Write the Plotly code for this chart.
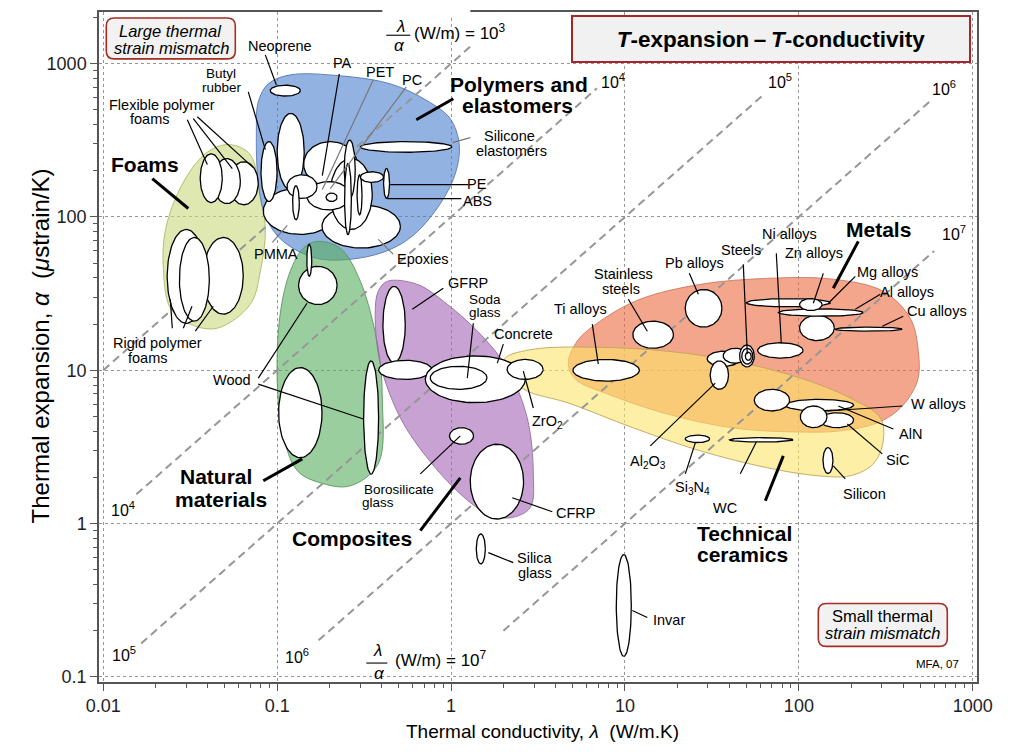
import numpy as np
import plotly.graph_objects as go

FONT = "Liberation Sans, Arial, Helvetica, sans-serif"

# ------------------------------------------------------------------
# DATA  (lambda = thermal conductivity, W/m.K ; alpha = thermal expansion, microstrain/K)
# Material bubbles: (name, lambda_min, lambda_max, alpha_min, alpha_max), listed in drawing order
# ------------------------------------------------------------------
foams = [
    ("Flexible polymer foam C", 0.0530, 0.0778, 120, 229),
    ("Flexible polymer foam B", 0.0429, 0.0614, 122, 240),
    ("Flexible polymer foam A", 0.0361, 0.0483, 124, 258),
    ("Rigid polymer foam C", 0.0376, 0.0638, 23.2, 73.4),
    ("Rigid polymer foam A", 0.0233, 0.0386, 20.2, 82.8),
    ("Rigid polymer foam B", 0.0274, 0.0407, 20.9, 73.4),
]

polymers = [
    ("Elastomer base", 0.0832, 0.222, 76.8, 155),
    ("Epoxies", 0.181, 0.511, 62.6, 120),
    ("PA", 0.142, 0.288, 158, 310),
    ("PET", 0.2017, 0.352, 82.8, 240),
    ("Butyl rubber (wide)", 0.100, 0.143, 150, 473),
    ("Butyl rubber", 0.0807, 0.0998, 126, 310),
    ("ABS", 0.148, 0.263, 111, 170),
    ("PMMA", 0.1138, 0.1695, 132, 188),
    ("Polymer narrow", 0.1227, 0.134, 95.8, 160),
    ("Polymer small", 0.191, 0.221, 126, 143),
    ("PC", 0.243, 0.281, 132, 317),
    ("Polymer narrow 2", 0.244, 0.267, 76.5, 223),
    ("Polymer narrow 3", 0.288, 0.3076, 103, 188),
    ("PE", 0.3008, 0.409, 168, 197),
    ("PE (2)", 0.409, 0.4426, 132, 207),
    ("Neoprene", 0.0912, 0.136, 614, 723),
    ("Silicone elastomers", 0.3008, 1.01, 264, 310),
]

natural = [
    ("Wood (transverse)", 0.1019, 0.181, 2.69, 10.4),
    ("Wood (longitudinal)", 0.314, 0.383, 2.10, 11.5),
    ("Wood (round)", 0.1327, 0.221, 26.8, 47.6),
    ("Natural narrow", 0.148, 0.158, 41.0, 66.4),
]

composites = [
    ("GFRP", 0.4055, 0.545, 11.2, 35.2),
    ("GFRP (2)", 0.383, 0.776, 8.71, 11.6),
    ("Concrete", 0.711, 2.67, 6.14, 12.4),
    ("Soda glass", 0.759, 1.609, 7.50, 10.6),
    ("ZrO2", 2.10, 3.38, 8.71, 11.75),
    ("Borosilicate glass", 0.979, 1.346, 3.29, 4.22),
    ("CFRP", 1.289, 2.61, 1.07, 3.29),
    ("Silica glass", 1.396, 1.573, 0.545, 0.855),
]

metals = [
    ("Ti alloys", 5.02, 12.1, 8.49, 11.75),
    ("Stainless steels", 11.1, 19.0, 13.9, 20.9),
    ("Pb alloys", 22.2, 36.1, 19.1, 33.6),
    ("Zn alloys", 49.8, 151.6, 25.9, 29.3),
    ("Al alloys (cast)", 100.9, 159.8, 15.6, 22.8),
    ("Al alloys", 76.1, 234.6, 22.5, 25.1),
    ("Mg alloys", 100.9, 135.8, 24.5, 29.3),
    ("Cu alloys", 161.9, 391.6, 17.96, 19.1),
    ("Ni alloys", 57.9, 105.6, 12.0, 15.1),
    ("Cast irons", 29.7, 46.0, 10.6, 13.3),
    ("Carbon steels", 36.7, 50.5, 11.1, 13.9),
    ("Steels", 45.6, 55.4, 10.5, 14.6),
    ("Steels (2)", 46.95, 54.3, 10.96, 13.9),
    ("Steels (3)", 49.2, 53.2, 11.6, 13.1),
    ("Invar", 8.91, 10.87, 0.136, 0.627),
]

ceramics = [
    ("Al2O3", 30.9, 39.4, 7.50, 11.5),
    ("W alloys", 83.5, 206.4, 5.42, 6.46),
    ("Ceramic (B4C)", 55.4, 88.4, 5.42, 7.50),
    ("SiC", 132.7, 206.4, 4.22, 5.28),
    ("AlN", 101.9, 145.1, 4.22, 5.84),
    ("Si3N4", 22.2, 30.7, 3.37, 3.77),
    ("WC", 39.96, 92.5, 3.40, 3.63),
    ("Silicon", 137.6, 157.0, 2.12, 3.13),
]

# Family envelopes (outline)
foams_env_lam = [0.0537, 0.070, 0.080, 0.0855, 0.080, 0.070, 0.0453, 0.0316, 0.0243, 0.0221, 0.0227, 0.0266, 0.0347, 0.0429]
foams_env_alpha = [296, 255, 132, 84.1, 44.2, 26.9, 18.8, 19.95, 25.4, 49.0, 80.4, 140, 229, 279]

polymers_env_lam = [0.0778, 0.0889, 0.1189, 0.2307, 0.4467, 0.729, 0.989, 1.114, 1.057, 0.867, 0.614, 0.4467, 0.289, 0.170, 0.1084, 0.0865, 0.0778, 0.0759]
polymers_env_alpha = [563, 738, 844, 832, 738, 572, 437, 296, 191, 122, 76.8, 61.3, 53.6, 53.6, 69.2, 97.7, 170, 360]

natural_env_lam = [0.170, 0.2307, 0.3008, 0.381, 0.402, 0.381, 0.263, 0.184, 0.1305, 0.107, 0.100, 0.104, 0.1189, 0.141]
natural_env_alpha = [69.2, 62.3, 38.0, 13.9, 6.58, 2.45, 1.76, 1.82, 2.21, 4.02, 8.49, 23.2, 44.2, 62.3]

composites_env_lam = [0.4295, 0.639, 0.951, 1.472, 2.105, 2.74, 2.97, 2.85, 2.19, 1.615, 1.13, 0.729, 0.511, 0.392, 0.366, 0.381]
composites_env_alpha = [38.0, 36.3, 26.9, 17.2, 10.3, 4.88, 2.11, 1.27, 1.09, 1.16, 1.56, 2.68, 4.88, 10.96, 23.2, 32.7]

metals_env_lam = [4.72, 5.32, 7.21, 12.2, 27.1, 65.8, 157.8, 305.5, 437, 486, 480, 383, 282, 173, 101.9, 42.0, 17.5, 8.23, 5.18]
metals_env_alpha = [11.1, 15.5, 20.9, 29.0, 36.3, 39.7, 39.2, 32.7, 21.8, 13.3, 8.49, 5.66, 4.53, 4.02, 3.95, 4.20, 5.18, 6.89, 8.75]

ceramics_env_lam = [2.05, 2.97, 7.21, 17.5, 42.0, 101.9, 197.5, 294, 305.5, 268, 197.5, 127.6, 65.8, 27.1, 11.2, 4.66, 2.74, 2.19, 2.0]
ceramics_env_alpha = [12.0, 13.7, 14.1, 13.3, 11.5, 8.89, 6.58, 4.88, 3.46, 2.45, 2.05, 2.05, 2.31, 2.98, 4.20, 6.14, 7.31, 8.89, 10.3]

# Guide lines lambda/alpha = const (W/m), with their lambda extent
guide_values = [1e3, 1e4, 1e5, 1e6, 1e7]
guide_lam_from = [0.01, 0.0155, 0.0165, 0.173, 2.0]
guide_lam_to = [1.3, 6.9, 62, 590, 600]

x_tickvals = [0.01, 0.1, 1, 10, 100, 1000]
x_ticktext = ["0.01", "0.1", "1", "10", "100", "1000"]
y_tickvals = [0.1, 1, 10, 100, 1000]
y_ticktext = ["0.1", "1", "10", "100", "1000"]

# ------------------------------------------------------------------
# STYLE
# ------------------------------------------------------------------
env_style = [
    (foams_env_lam, foams_env_alpha, "rgba(203,217,127,0.6)", "rgba(170,185,100,0.9)"),
    (polymers_env_lam, polymers_env_alpha, "rgba(73,127,207,0.6)", "rgba(90,120,180,0.9)"),
    (natural_env_lam, natural_env_alpha, "rgba(88,173,93,0.6)", "rgba(90,150,95,0.9)"),
    (composites_env_lam, composites_env_alpha, "rgba(163,100,180,0.6)", "rgba(150,110,165,0.9)"),
    (metals_env_lam, metals_env_alpha, "rgba(237,107,63,0.6)", "rgba(205,120,95,0.9)"),
    (ceramics_env_lam, ceramics_env_alpha, "rgba(252,228,105,0.6)", "rgba(190,165,90,0.9)"),
]

fig = go.Figure()

for lam, alp, fc, lc in env_style:
    fig.add_trace(go.Scatter(
        x=lam + [lam[0]], y=alp + [alp[0]], mode="lines",
        line=dict(shape="spline", smoothing=1.0, color=lc, width=1),
        fill="toself", fillcolor=fc, hoverinfo="skip"))

# Guide lines: alpha(microstrain/K) = lambda * 1e6 / C
for C, l0, l1 in zip(guide_values, guide_lam_from, guide_lam_to):
    lams = np.array([l0, l1])
    fig.add_trace(go.Scatter(
        x=lams, y=lams * 1e6 / C, mode="lines",
        line=dict(color="rgb(150,150,150)", width=2, dash="8px,5px"),
        hoverinfo="skip"))


def bubble(lmin, lmax, amin, amax, n=90):
    t = np.linspace(0, 2 * np.pi, n)
    cx = (np.log10(lmin) + np.log10(lmax)) / 2
    rx = (np.log10(lmax) - np.log10(lmin)) / 2
    cy = (np.log10(amin) + np.log10(amax)) / 2
    ry = (np.log10(amax) - np.log10(amin)) / 2
    return 10 ** (cx + rx * np.cos(t)), 10 ** (cy + ry * np.sin(t))


for group in (foams, polymers, natural, composites, metals, ceramics):
    for name, l0, l1, a0, a1 in group:
        xs, ys = bubble(l0, l1, a0, a1)
        fig.add_trace(go.Scatter(
            x=xs, y=ys, mode="lines", fill="toself", fillcolor="white",
            line=dict(color="black", width=1.3), name=name, hoverinfo="name"))

# ------------------------------------------------------------------
# LAYOUT helpers (pixel position -> paper fraction)
# ------------------------------------------------------------------
PL, PR, PT, PB = 98.7, 976.7, 10.0, 681.7


def fx(x):
    return (x - PL) / (PR - PL)


def fy(y):
    return (PB - y) / (PB - PT)


annotations = []


def text(t, x, y, size=14.5, color="black", xanchor="center", angle=0, **kw):
    annotations.append(dict(text=t, x=fx(x), y=fy(y), xref="paper", yref="paper",
                            showarrow=False, xanchor=xanchor, yanchor="middle",
                            textangle=angle,
                            font=dict(family=FONT, size=size, color=color), **kw))


shapes = []


def seg(x0, y0, x1, y1, color="black", width=1.2):
    shapes.append(dict(type="line", xref="paper", yref="paper", layer="above",
                       x0=fx(x0), y0=fy(y0), x1=fx(x1), y1=fy(y1),
                       line=dict(color=color, width=width)))


def rrect(x0, y0, x1, y1, r, line_color, fill):
    def P(x, y):
        return f"{fx(x):.5f},{fy(y):.5f}"
    path = (f"M {P(x0 + r, y0)} L {P(x1 - r, y0)} Q {P(x1, y0)} {P(x1, y0 + r)} "
            f"L {P(x1, y1 - r)} Q {P(x1, y1)} {P(x1 - r, y1)} "
            f"L {P(x0 + r, y1)} Q {P(x0, y1)} {P(x0, y1 - r)} "
            f"L {P(x0, y0 + r)} Q {P(x0, y0)} {P(x0 + r, y0)} Z")
    shapes.append(dict(type="path", path=path, xref="paper", yref="paper", layer="above",
                       fillcolor=fill, line=dict(color=line_color, width=1.6)))


# material labels
mat_labels = [
    ("Neoprene", 280, 44),
    ("Flexible polymer", 161.7, 103.5), ("foams", 150, 117.5),
    ("PA", 341.7, 61), ("PET", 380, 70), ("PC", 411.7, 78),
    ("Silicone", 509, 134), ("elastomers", 511, 149),
    ("PE", 476.7, 182.5), ("ABS", 476.7, 199),
    ("Epoxies", 422.5, 257.5), ("PMMA", 276, 253),
    ("Rigid polymer", 157, 342), ("foams", 147.5, 357),
    ("Wood", 232, 379),
    ("GFRP", 467.5, 281.7),
    ("Concrete", 523, 332.5), ("ZrO<sub>2</sub>", 547.5, 421),
    ("CFRP", 575, 512.5), ("Silica", 535, 557.5), ("glass", 535, 572),
    ("Invar", 669, 620),
    ("Ti alloys", 580, 308), ("Stainless", 623, 273), ("steels", 621, 288),
    ("Pb alloys", 694.5, 262), ("Steels", 741, 249), ("Ni alloys", 789, 233),
    ("Zn alloys", 814, 252), ("Mg alloys", 887.5, 270.5), ("Al alloys", 906.7, 290.7),
    ("Cu alloys", 936.7, 310), ("W alloys", 938, 403), ("AlN", 910, 432.7),
    ("SiC", 896.7, 459), ("Silicon", 864, 493),
    ("Al<sub>2</sub>O<sub>3</sub>", 647.5, 461), ("Si<sub>3</sub>N<sub>4</sub>", 692, 487),
    ("WC", 725, 507.5),
]
for t, x, y in mat_labels:
    text(t, x, y)

# tightly stacked two-line labels (slightly smaller, as in the original)
tight_labels = [
    ("Butyl", 221, 72), ("rubber", 221.5, 85.5),
    ("Soda", 485, 298.5), ("glass", 485, 311.5),
    ("Borosilicate", 399, 488.5), ("glass", 378, 502),
]
for t, x, y in tight_labels:
    text(t, x, y, size=13.5)

fam_labels = [
    ("Foams", 145, 163, "center"), ("Polymers and", 519, 82.5, "center"),
    ("elastomers", 517.5, 104, "center"), ("Natural", 216, 476, "center"),
    ("materials", 221, 499, "center"), ("Composites", 351.7, 537.5, "center"),
    ("Metals", 878, 228.5, "center"), ("Technical", 695, 533, "left"),
    ("ceramics", 695, 554, "left"),
]
for t, x, y, xa in fam_labels:
    text(f"<b>{t}</b>", x, y, size=21, xanchor=xa)

# leader lines
thin = [
    (265, 53, 276, 83), (248, 90, 265, 148),
    (187, 118, 207, 163), (193, 117, 232, 167), (197, 115, 253, 166),
    (339, 72, 322, 174), (468, 183, 390, 183), (461, 197, 387, 197),
    (172, 327, 170, 298), (183, 327, 191.7, 305), (195, 330, 213, 305),
    (258, 377, 306.7, 302), (258, 383, 363, 418),
    (443, 287, 412, 308), (473, 322, 467, 377), (503, 343, 497, 362),
    (533, 407, 523, 370), (420, 473, 460, 435), (552, 511, 512, 497),
    (488, 552, 513, 562), (632, 610, 647, 617),
    (592, 323, 598, 363), (628, 298, 647, 330), (689, 272, 698, 293),
    (743, 263, 747, 353), (776, 252, 781, 342), (823, 272, 813, 302),
    (855, 275, 828, 302), (880, 293, 855, 308), (903, 315, 882, 325),
    (902, 405, 827, 410), (893, 428, 838, 405), (882, 453, 847, 423),
    (845, 478, 833, 465), (650, 445, 715, 382), (685, 473, 695, 442),
    (740, 473, 756, 441),
]
for s in thin:
    seg(*s)
grey = [(373, 78, 322, 188), (406, 85, 330, 187), (470, 136, 452, 141),
        (393, 253, 378, 238), (272, 241, 287, 224)]
for s in grey:
    seg(*s, color="rgb(120,120,120)")
thick = [(152, 177, 188, 207), (453, 97, 416, 118), (263, 480, 302, 458),
         (420, 530, 460, 477), (858, 240, 833, 287), (765, 500, 783, 455)]
for s in thick:
    seg(*s, width=3)

# guide-line labels
for t, x, y in [("10<sup>4</sup>", 613, 79), ("10<sup>5</sup>", 780, 79),
                ("10<sup>6</sup>", 944, 86), ("10<sup>7</sup>", 954, 232),
                ("10<sup>4</sup>", 123, 508), ("10<sup>5</sup>", 124, 654),
                ("10<sup>6</sup>", 297, 656)]:
    text(t, x, y, size=16)

# formula labels  lambda/alpha (W/m) = ...
shapes.append(dict(type="rect", xref="paper", yref="paper", layer="above",
                   x0=fx(382), x1=fx(470), y0=fy(14), y1=fy(5),
                   fillcolor="white", line=dict(width=0)))
text("<i>λ</i>", 400, 25, size=17)
seg(386, 33.3, 410, 33.3, width=1.1)
text("<i>α</i>", 399, 44, size=17)
text("(W/m) = 10<sup>3</sup>", 460, 30, size=17)
text("<i>λ</i>", 377, 650, size=17)
seg(366, 662.7, 387, 662.7, width=1.1)
text("<i>α</i>", 379, 673, size=17)
text("(W/m) = 10<sup>7</sup>", 441, 659, size=17)

# boxes
rrect(106, 16, 235, 57, 8, "rgb(165,45,35)", "rgb(242,242,242)")
text("<i>Large thermal</i>", 170.5, 29.5, size=16.5)
text("<i>strain mismatch</i>", 171.5, 46, size=16.5)
rrect(818, 603, 947, 646, 8, "rgb(165,45,35)", "rgb(242,242,242)")
text("Small thermal", 882, 615.5, size=16.5)
text("<i>strain mismatch</i>", 883, 633, size=16.5)

annotations.append(dict(
    text="<b><i>T</i>-expansion\u2009–\u2009<i>T</i>-conductivity</b>",
    x=fx(771), y=fy(37), xref="paper", yref="paper", showarrow=False,
    xanchor="center", yanchor="middle", width=396, height=44, borderpad=0,
    bgcolor="rgb(241,241,241)", bordercolor="rgb(170,35,40)", borderwidth=2,
    font=dict(family=FONT, size=22.5, color="black")))

text("MFA, 07", 937, 664, size=11.5)

# axis titles
text("Thermal expansion, <i>α</i>  (<i>μ</i>strain/K)", 40, 345, size=24, angle=-90)
text("Thermal conductivity, <i>λ</i>  (W/m.K)", 542, 731, size=19)

axis_common = dict(
    type="log", showline=True, linecolor="rgb(85,85,85)", linewidth=1.5, mirror=True,
    ticks="outside", ticklen=7, tickwidth=1.2, tickcolor="rgb(85,85,85)",
    showgrid=True, gridcolor="rgb(150,150,150)", griddash="dot", gridwidth=1,
    zeroline=False, tickfont=dict(family=FONT, size=18, color="rgb(30,30,30)"),
    minor=dict(ticks="outside", ticklen=4, tickwidth=1, tickcolor="rgb(85,85,85)",
               dtick="D1", showgrid=False),
)

fig.update_layout(
    width=1024, height=752, autosize=False,
    margin=dict(l=PL, r=1024 - PR, t=PT, b=752 - PB, pad=0),
    plot_bgcolor="white", paper_bgcolor="white", showlegend=False,
    xaxis=dict(range=[-2.0247, 3.0242], tickmode="array", tickvals=x_tickvals,
               ticktext=x_ticktext, **axis_common),
    yaxis=dict(range=[-1.0338, 3.3364], tickmode="array", tickvals=y_tickvals,
               ticktext=y_ticktext, **axis_common),
    annotations=annotations, shapes=shapes,
)

fig.write_html("out.html")
